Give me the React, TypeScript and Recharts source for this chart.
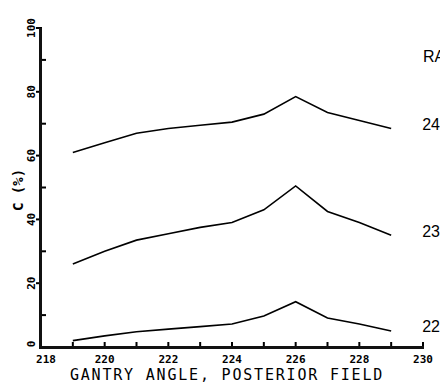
import { Line, LineChart, XAxis, YAxis } from 'recharts';

const angles = [219, 220, 221, 222, 223, 224, 225, 226, 227, 228, 229];
const r24 = [61, 64, 67, 68.5, 69.5, 70.5, 73, 78.5, 73.5, 71, 68.5];
const r23 = [26, 30, 33.5, 35.5, 37.5, 39, 43, 50.5, 42.5, 39, 35];
const r22 = [2, 3.5, 4.8, 5.6, 6.4, 7.2, 9.7, 14.2, 9.1, 7.2, 5];
const radii = ['24', '23', '22'];
const xTicks = [218, 219, 220, 221, 222, 223, 224, 225, 226, 227, 228, 229, 230];
const yTicks = [0, 10, 20, 30, 40, 50, 60, 70, 80, 90, 100];

const data = angles.map((a, i) => ({ angle: a, r24: r24[i], r23: r23[i], r22: r22[i] }));

const mono = '"DejaVu Sans Mono", monospace';

const LEFT = 41;
const TOP = 28;
const RIGHT = 423;
const BOTTOM = 347;

function XTick(props: any) {
  const { x, payload } = props;
  const v = payload.value;
  const y = BOTTOM;
  return (
    <g>
      {v !== 218 && <rect x={x - 1} y={y - 5} width={2} height={5} fill="#000" />}
      {v % 2 === 0 && (
        <text x={v === 218 ? x + 5 : x} y={y + 16} textAnchor="middle" fontFamily={mono} fontSize={11} fontWeight="bold" fill="#000">
          {v}
        </text>
      )}
    </g>
  );
}

function YTick(props: any) {
  const { y, payload } = props;
  const v = payload.value;
  const x = LEFT;
  const major = v % 20 === 0;
  const tx = x - 9;
  const ty = v === 0 ? y - 3 : y;
  return (
    <g>
      {v !== 0 && <rect x={major ? x - 5 : x} y={y - 1} width={major ? 6 : 5} height={2} fill="#000" />}
      {major && (
        <text
          x={tx}
          y={ty}
          transform={`rotate(-90 ${tx} ${ty})`}
          textAnchor="middle"
          dominantBaseline="middle"
          fontFamily={mono}
          fontSize={11}
          fontWeight="bold"
          fill="#000"
        >
          {v}
        </text>
      )}
    </g>
  );
}

function endLabel(name: string) {
  return (props: any) => {
    if (props.index !== angles.length - 1) return null;
    return (
      <text x={props.x + 31} y={props.y - 3} dominantBaseline="middle" fontFamily="'Liberation Sans', sans-serif" fontSize={16} fill="#000">
        {name}
      </text>
    );
  };
}

export default function App() {
  return (
    <div style={{ position: 'absolute', left: 0, top: 0, width: 440, height: 383, overflow: 'hidden', background: '#fff' }}>
      <LineChart width={440} height={383} data={data} margin={{ top: TOP, right: 440 - RIGHT, bottom: 383 - BOTTOM - 1, left: LEFT - 1 }}>
        <XAxis
          dataKey="angle"
          type="number"
          domain={[218, 230]}
          ticks={xTicks}
          interval={0}
          height={1}
          tickSize={0}
          tickMargin={0}
          tickLine={false}
          axisLine={{ stroke: '#000', strokeWidth: 2 }}
          tick={<XTick />}
        />
        <YAxis
          type="number"
          domain={[0, 100]}
          ticks={yTicks}
          interval={0}
          width={1}
          tickSize={0}
          tickMargin={0}
          tickLine={false}
          axisLine={{ stroke: '#000', strokeWidth: 2 }}
          tick={<YTick />}
        />
        <Line dataKey="r24" stroke="#000" strokeWidth={1.6} dot={false} isAnimationActive={false} label={endLabel(radii[0])} />
        <Line dataKey="r23" stroke="#000" strokeWidth={1.6} dot={false} isAnimationActive={false} label={endLabel(radii[1])} />
        <Line dataKey="r22" stroke="#000" strokeWidth={1.6} dot={false} isAnimationActive={false} label={endLabel(radii[2])} />
      </LineChart>
      <div style={{ position: 'absolute', left: LEFT - 2, top: TOP, width: 3, height: BOTTOM - TOP + 2, backgroundColor: '#111' }} />
      <div style={{ position: 'absolute', left: LEFT - 2, top: BOTTOM - 1, width: RIGHT - LEFT + 3, height: 3, backgroundColor: '#111' }} />
      <div style={{ position: 'absolute', left: 423, top: 48, fontFamily: "'Liberation Sans', sans-serif", fontSize: 16, whiteSpace: 'nowrap' }}>
        RADIUS
      </div>
      <div
        style={{
          position: 'absolute',
          left: 18,
          top: 190,
          transform: 'translate(-50%, -50%) rotate(-90deg)',
          fontFamily: mono,
          fontSize: 14,
          fontWeight: 'bold',
          whiteSpace: 'nowrap',
        }}
      >
        C (%)
      </div>
      <div
        style={{
          position: 'absolute',
          left: 227,
          top: 367,
          transform: 'translateX(-50%)',
          fontFamily: mono,
          fontSize: 15,
          letterSpacing: 1.8,
          whiteSpace: 'nowrap',
          lineHeight: '16px',
        }}
      >
        GANTRY ANGLE, POSTERIOR FIELD
      </div>
    </div>
  );
}
